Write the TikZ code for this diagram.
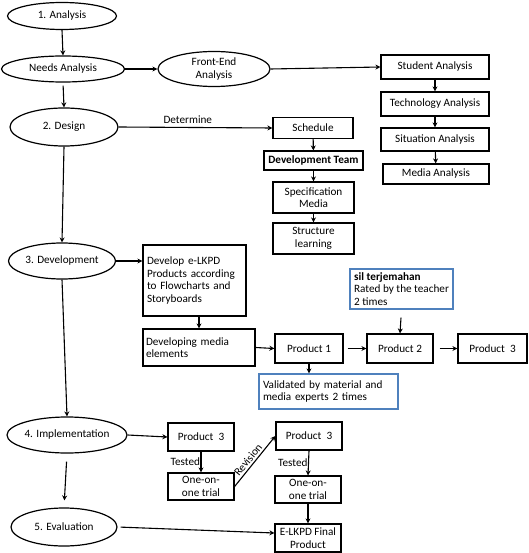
\documentclass[tikz,border=0pt]{standalone}
\usepackage{fontspec}
\setmainfont{Carlito}
\usetikzlibrary{shapes.geometric,arrows.meta}
\definecolor{blueb}{RGB}{79,129,189}
\begin{document}
\begin{tikzpicture}[x=1pt,y=-1pt,
  font=\fontsize{11.2}{12.6}\selectfont,
  ell/.style={ellipse, draw, line width=1.2pt, inner sep=0pt},
  box/.style={rectangle, draw, line width=1.2pt, inner sep=1pt, align=center},
  bbox/.style={rectangle, draw=blueb, line width=1.2pt, inner sep=3pt, align=left},
  arr/.style={-{Stealth[length=5pt,width=5pt]}, line width=1.1pt}]
\useasboundingbox (0,0) rectangle (528,553);
% ellipses
\node[ell, minimum width=109pt, minimum height=27pt] (a1) at (62,16) {1. Analysis};
\node[ell, minimum width=123pt, minimum height=26pt] (needs) at (63,69) {Needs Analysis};
\node[ell, minimum width=112pt, minimum height=35pt, align=center] (fe) at (214,69) {Front-End\\Analysis};
\node[ell, minimum width=108pt, minimum height=38pt] (design) at (64,127) {2. Design};
\node[ell, minimum width=107pt, minimum height=36pt] (dev) at (62,261) {3. Development};
\node[ell, minimum width=108pt, minimum height=36pt] (impl) at (67,435) {4. Implementation};
\node[ell, minimum width=106pt, minimum height=38pt] (eval) at (64,527) {5. Evaluation};
% analysis boxes
\node[box, minimum width=108pt, minimum height=24pt] (stud) at (435,67) {Student Analysis};
\node[box, minimum width=108pt, minimum height=24pt] (tech) at (435,104) {Technology Analysis};
\node[box, minimum width=108pt, minimum height=23pt] (sit) at (435,139.5) {Situation Analysis};
\node[box, minimum width=106pt, minimum height=20pt] (media) at (436,174) {Media Analysis};
% design boxes
\node[box, minimum width=80pt, minimum height=21pt] (sched) at (313,128) {Schedule};
\node[box, minimum width=99pt, minimum height=19pt, font=\fontsize{11.2}{12.6}\selectfont\bfseries] (team) at (313.5,160.5) {Development Team};
\node[box, minimum width=81pt, minimum height=31pt] (spec) at (313.5,197.5) {Specification\\Media};
\node[box, minimum width=81pt, minimum height=31pt] (struct) at (313.5,238.5) {Structure\\learning};
% development
\node[box, minimum width=103pt, minimum height=71pt, align=left, text width=95pt, inner sep=4pt] (elkpd) at (194.5,280.5) {Develop e-LKPD\\Products according\\to Flowcharts and\\Storyboards};
\node[box, minimum width=112pt, minimum height=37pt, align=left, text width=106pt, inner sep=3pt] (media2) at (199,347.5) {Developing media\\elements};
\node[box, minimum width=68pt, minimum height=29pt] (p1) at (309,348.5) {Product 1};
\node[box, minimum width=66pt, minimum height=29pt] (p2) at (400,348.5) {Product 2};
\node[box, minimum width=69pt, minimum height=29pt] (p3) at (492.5,348.5) {Product\ \ 3};
\node[bbox, minimum width=103pt, minimum height=40pt, inner sep=2pt] (sil) at (401.5,289) {\textbf{sil terjemahan}\\Rated by the teacher\\2 times};
\node[bbox, minimum width=139pt, minimum height=35pt, text width=131pt] (val) at (328.5,391.5) {Validated by material and\\media experts 2 times};
% implementation
\node[box, minimum width=66pt, minimum height=28pt] (p3a) at (201,437) {Product\ \ 3};
\node[box, minimum width=66pt, minimum height=27pt] (one1) at (201,486.5) {One-on-\\one trial};
\node[box, minimum width=66pt, minimum height=28pt] (p3b) at (309,436) {Product\ \ 3};
\node[box, minimum width=66pt, minimum height=27pt] (one2) at (308,489.5) {One-on-\\one trial};
\node[box, minimum width=66pt, minimum height=28pt] (final) at (308,538) {E-LKPD Final\\Product};
% connectors
\draw[arr] (a1.south) -- (needs.north);
\draw[arr, shorten <=3pt] (needs.south) -- (design.north);
\draw[arr] (needs.east) -- (fe.west);
\draw[arr] (fe.east) -- (stud.west);
\draw[arr] (stud) -- (tech);
\draw[arr] (tech) -- (sit);
\draw[arr] (sit) -- (media);
\draw[arr] (design.east) -- node[above, pos=0.45] (detl) {Determine} (sched.west);
\draw[arr] (sched) -- (team);
\draw[arr] (team) -- (spec);
\draw[arr] (spec) -- (struct);
\draw[arr] (design.south) -- (dev.north);
\draw[arr] (dev.east) -- (elkpd.west |- dev.east);
\draw[arr] (elkpd.south -| media2.north) -- (media2.north);
\draw[arr] (media2.east) -- (p1.west);
\draw[arr, shorten <=4pt] (p1.east) -- (p2.west);
\draw[arr, shorten <=6pt] (p2.east) -- (p3.west);
\draw[arr, shorten <=8pt] (sil.south) -- (p2.north);
\draw[arr] (p1.south) -- (p1.south |- val.north);
\draw[arr] (dev.south) -- (impl.north);
\draw[arr, shorten <=8pt, shorten >=7pt] (impl.south) -- (eval.north);
\draw[arr] (impl.east) -- (p3a.west);
\draw[arr] (p3a.south) -- node[left, inner sep=0.5pt] (t1) {Tested} (one1.north);
\draw[arr] (one1.east) -- node[above, sloped, inner sep=2pt, pos=0.45] (rev) {Revision} (p3b.west);
\draw[arr] (p3b.south) -- node[left, inner sep=0.5pt] (t2) {Tested} (one2.north);
\draw[arr] (one2.south) -- (final.north);
\draw[arr, shorten <=3pt] (eval.east) -- ([yshift=5pt]final.west);
\end{tikzpicture}
\end{document}
